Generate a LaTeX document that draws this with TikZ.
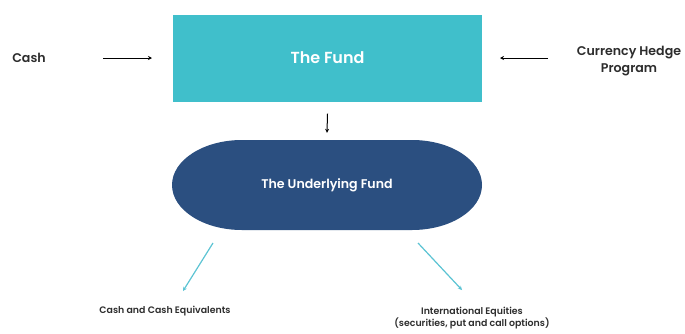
\documentclass[tikz,border=0pt]{standalone}
\usepackage{fontspec}
\setmainfont{Poppins}
\newfontfamily\medium{Poppins SemiBold}
\usepackage{tikz}
\usetikzlibrary{arrows.meta,positioning}

\definecolor{fundteal}{RGB}{64,191,203}
\definecolor{fundnavy}{RGB}{43,79,128}
\definecolor{arrowteal}{RGB}{91,195,211}
\definecolor{labelgrey}{RGB}{45,45,45}

\begin{document}
\begin{tikzpicture}[x=1pt,y=-1pt]
\useasboundingbox (0,0) rectangle (685,333);
\tikzset{
  label/.style={font=\fontsize{12.6}{16.5}\selectfont\medium, align=center, text=labelgrey},
  small/.style={font=\fontsize{9.4}{12}\selectfont\medium, align=center, text=labelgrey},
  black arrow/.style={-{Stealth[length=4pt,width=4pt]}, line width=1pt},
  teal arrow/.style={-{Stealth[length=4pt,width=4pt]}, line width=1.2pt, draw=arrowteal}
}
\node (fund) [rectangle, fill=fundteal, minimum width=309pt, minimum height=87pt,
  text=white, font=\fontsize{16}{20}\selectfont\medium] at (327.5,58) {The Fund};

% pill shape with elliptical ends
\coordinate (ucentre) at (327,185);
\fill [fundnavy] ([xshift=-85pt,yshift=45pt]ucentre) -- ([xshift=85pt,yshift=45pt]ucentre)
  arc[start angle=90, end angle=-90, x radius=70pt, y radius=45pt]
  -- ([xshift=-85pt,yshift=-45pt]ucentre)
  arc[start angle=270, end angle=90, x radius=70pt, y radius=45pt] -- cycle;
\node (underlying) [rectangle, minimum width=310pt, minimum height=90pt, text=white,
  font=\fontsize{12.6}{16}\selectfont\medium] at (ucentre) {The Underlying Fund};

\node (cash) [label] at (29,58) {Cash};
\node (hedge) [label] at (629,61) {Currency Hedge\\Program};
\node (equiv) [small] at (165,311) {Cash and Cash Equivalents};
\node (equity) [small] at (472,318) {International Equities\\(securities, put and call options)};

\coordinate (cashfrom) at (103,58);
\coordinate (cashto) at (152,58);
\coordinate (hedgefrom) at (548,58);
\coordinate (hedgeto) at (500,58);
\coordinate (leftfrom) at (213,243);
\coordinate (leftto) at (183,291);
\coordinate (rightfrom) at (418,243);
\coordinate (rightto) at (462,290);

\draw [black arrow] (cashfrom) -- (cashto);
\draw [black arrow] (hedgefrom) -- (hedgeto);
\draw [black arrow] ([yshift=-12pt]fund.south) -- ([yshift=7pt]underlying.north);
\draw [teal arrow] (leftfrom) -- (leftto);
\draw [teal arrow] (rightfrom) -- (rightto);
\end{tikzpicture}
\end{document}
